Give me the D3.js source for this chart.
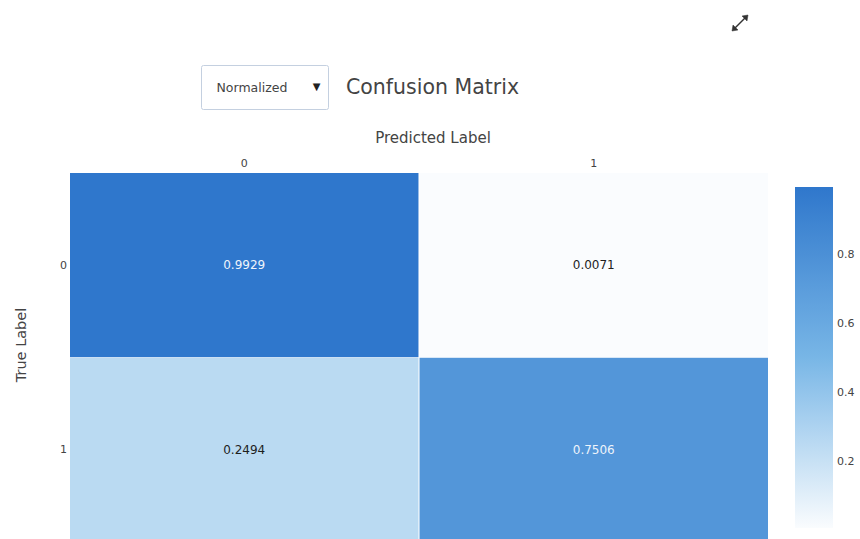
<!DOCTYPE html>
<html>
<head>
<meta charset="utf-8">
<script src="https://cdn.jsdelivr.net/npm/d3@7"></script>
<style>
  html, body { margin: 0; padding: 0; background: #fff; }
  svg { display: block; font-family: "DejaVu Sans", Verdana, sans-serif; }
</style>
</head>
<body>
<svg id="chart" width="860" height="539"></svg>
<script>
// Confusion matrix (normalized by true label)
const predictedLabels = ["0", "1"];
const trueLabels = ["0", "1"];
const matrixValues = [
  [0.9929, 0.0071],
  [0.2494, 0.7506]
];
const colorbarTicks = [0.2, 0.4, 0.6, 0.8];
const modeOptions = ["Normalized"];

const svg = d3.select("#chart");

const plot = { left: 70, right: 768, top: 173, bottom: 542 };

const x = d3.scaleBand().domain(predictedLabels).range([plot.left, plot.right]).paddingInner(0.003);
const y = d3.scaleBand().domain(trueLabels).range([plot.top, plot.bottom]).paddingInner(0.003);

const flat = matrixValues.flat();
const vmin = d3.min(flat), vmax = d3.max(flat);
const color = d3.scaleLinear()
  .domain([vmin, (vmin + vmax) / 2, vmax])
  .range(["#fafcfe", "#78b6e6", "#2f77cc"])
  .interpolate(d3.interpolateRgb);

// cells
const cells = [];
trueLabels.forEach((t, i) => predictedLabels.forEach((p, j) => cells.push({ t, p, v: matrixValues[i][j] })));

svg.append("g").selectAll("rect").data(cells).join("rect")
  .attr("x", d => x(d.p))
  .attr("y", d => y(d.t))
  .attr("width", x.bandwidth())
  .attr("height", y.bandwidth())
  .attr("fill", d => color(d.v));

svg.append("g").selectAll("text").data(cells).join("text")
  .attr("x", d => x(d.p) + x.bandwidth() / 2)
  .attr("y", d => y(d.t) + y.bandwidth() / 2)
  .attr("text-anchor", "middle")
  .attr("dominant-baseline", "central")
  .attr("font-size", 12)
  .attr("fill", d => d.v > 0.5 ? "#eef4fb" : "#1e1e1e")
  .text(d => d3.format(".4f")(d.v));

// top axis
const gx = svg.append("g").attr("transform", `translate(0,${plot.top})`)
  .call(d3.axisTop(x).tickSize(0).tickPadding(6));
gx.select(".domain").remove();
gx.selectAll("text").attr("font-size", 11).attr("fill", "#444").attr("font-family", "DejaVu Sans, sans-serif");

// left axis
const gy = svg.append("g").attr("transform", `translate(${plot.left},0)`)
  .call(d3.axisLeft(y).tickSize(0).tickPadding(3));
gy.select(".domain").remove();
gy.selectAll("text").attr("font-size", 11).attr("fill", "#444").attr("font-family", "DejaVu Sans, sans-serif");

// axis titles
svg.append("text")
  .attr("x", 433).attr("y", 138)
  .attr("text-anchor", "middle").attr("dominant-baseline", "central")
  .attr("font-size", 15).attr("fill", "#444")
  .text("Predicted Label");

svg.append("text")
  .attr("transform", "translate(21,345) rotate(-90)")
  .attr("text-anchor", "middle").attr("dominant-baseline", "central")
  .attr("font-size", 14.5).attr("fill", "#444")
  .text("True Label");

// title
svg.append("text")
  .attr("x", 346).attr("y", 87)
  .attr("dominant-baseline", "central")
  .attr("font-size", 20.5).attr("fill", "#444")
  .text("Confusion Matrix");

// dropdown
const dd = svg.append("g").attr("transform", "translate(201.5,65.5)");
dd.append("rect").attr("width", 127).attr("height", 44).attr("rx", 2)
  .attr("fill", "#fff").attr("stroke", "#c4d0e0").attr("stroke-width", 1);
dd.append("text").attr("x", 15).attr("y", 22).attr("dominant-baseline", "central")
  .attr("font-size", 12.5).attr("fill", "#444").text(modeOptions[0]);
dd.append("text").attr("x", 115).attr("y", 21).attr("text-anchor", "middle").attr("dominant-baseline", "central")
  .attr("font-size", 10).attr("fill", "#222").text("▼");

// colorbar
const cb = { x: 795, w: 38, top: 187, bottom: 528 };
const cbScale = d3.scaleLinear().domain([vmin, vmax]).range([cb.bottom, cb.top]);
const grad = svg.append("defs").append("linearGradient").attr("id", "cbgrad")
  .attr("x1", 0).attr("y1", 1).attr("x2", 0).attr("y2", 0);
d3.range(0, 1.0001, 0.1).forEach(t => {
  grad.append("stop").attr("offset", t).attr("stop-color", color(vmin + t * (vmax - vmin)));
});
svg.append("rect").attr("x", cb.x).attr("y", cb.top).attr("width", cb.w)
  .attr("height", cb.bottom - cb.top).attr("fill", "url(#cbgrad)");

const gcb = svg.append("g").attr("transform", `translate(${cb.x + cb.w},0)`)
  .call(d3.axisRight(cbScale).tickValues(colorbarTicks).tickSize(0).tickPadding(4).tickFormat(d3.format(".1f")));
gcb.select(".domain").remove();
gcb.selectAll("text").attr("font-size", 11).attr("fill", "#444").attr("font-family", "DejaVu Sans, sans-serif");

// expand icon
const ic = svg.append("g").attr("transform", "translate(740,23)").attr("stroke", "#333").attr("fill", "#333");
ic.append("line").attr("x1", -6).attr("y1", 6).attr("x2", 6).attr("y2", -6).attr("stroke-width", 1.4);
ic.append("path").attr("d", "M8,-8 L2,-7 L7,-2 Z").attr("stroke-width", 0.5);
ic.append("path").attr("d", "M-8,8 L-2,7 L-7,2 Z").attr("stroke-width", 0.5);
</script>
</body>
</html>
